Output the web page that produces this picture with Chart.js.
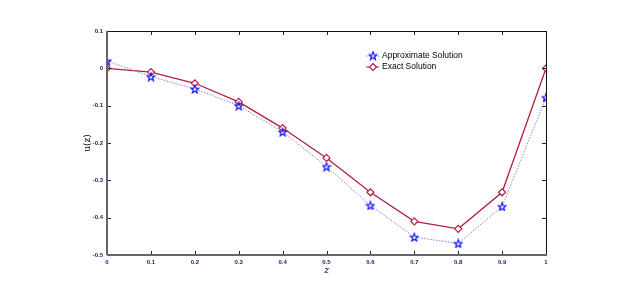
<!DOCTYPE html>
<html>
<head>
<meta charset="utf-8">
<script src="https://cdn.jsdelivr.net/npm/chart.js@4/dist/chart.umd.min.js"></script>
<style>
  html, body { margin: 0; padding: 0; background: #fff; }
  #wrap { width: 617px; height: 298px; }
</style>
</head>
<body>
<div id="wrap"><canvas id="chart" width="617" height="298"></canvas></div>
<script>
const zValues = [0, 0.1, 0.2, 0.3, 0.4, 0.5, 0.6, 0.7, 0.8, 0.9, 1]
const approxValues = [0.02, -0.022, -0.055, -0.1, -0.17, -0.263, -0.367, -0.452, -0.469, -0.37, -0.078]
const exactValues = [0, -0.01, -0.04, -0.09, -0.16, -0.24, -0.332, -0.41, -0.43, -0.332, 0]
const xTicks = [0, 0.1, 0.2, 0.3, 0.4, 0.5, 0.6, 0.7, 0.8, 0.9, 1]
const yTicks = [0.1, 0, -0.1, -0.2, -0.3, -0.4, -0.5]

const exactColor = "#b2203f"
const approxLine = "#7f7fff"
const approxMark = "#0000ff"

// five-point star marker
function makeStar(size, color) {
  const c = document.createElement("canvas")
  c.width = size
  c.height = size
  const g = c.getContext("2d")
  const cx = size / 2, cy = size / 2 + 0.5, R = size / 2 - 0.8, r = R * 0.42
  g.beginPath()
  for (let i = 0; i < 10; i++) {
    const rad = i % 2 === 0 ? R : r
    const a = -Math.PI / 2 + i * Math.PI / 5
    g.lineTo(cx + rad * Math.cos(a), cy + rad * Math.sin(a))
  }
  g.closePath()
  g.lineWidth = 1.1
  g.strokeStyle = color
  g.stroke()
  return c
}
const starImg = makeStar(10, approxMark)

const toData = (vals) => vals.map((v, i) => ({ x: zValues[i], y: v }))

// ticks pointing inward on all four sides, axis titles, legend in the plot
const decorations = {
  id: "decorations",
  afterDraw(chart) {
    const { ctx, chartArea: a, scales } = chart
    ctx.save()
    ctx.strokeStyle = "#222"
    ctx.lineWidth = 1
    ctx.beginPath()
    xTicks.forEach((t) => {
      const px = Math.round(scales.x.getPixelForValue(t)) + 0.5
      ctx.moveTo(px, a.bottom); ctx.lineTo(px, a.bottom - 4)
      ctx.moveTo(px, a.top); ctx.lineTo(px, a.top + 4)
    })
    yTicks.forEach((t) => {
      const py = Math.round(scales.y.getPixelForValue(t)) + 0.5
      ctx.moveTo(a.left, py); ctx.lineTo(a.left + 4, py)
      ctx.moveTo(a.right, py); ctx.lineTo(a.right - 4, py)
    })
    ctx.stroke()
    // frame: black top/right, grey left/bottom
    ctx.strokeStyle = "#111"
    ctx.beginPath()
    ctx.moveTo(a.left, a.top + 0.5); ctx.lineTo(a.right, a.top + 0.5)
    ctx.moveTo(a.right + 0.5, a.top); ctx.lineTo(a.right + 0.5, a.bottom)
    ctx.stroke()
    ctx.strokeStyle = "#666"
    ctx.lineWidth = 2
    ctx.beginPath()
    ctx.moveTo(a.left, a.top); ctx.lineTo(a.left, a.bottom)
    ctx.moveTo(a.left, a.bottom); ctx.lineTo(a.right + 1, a.bottom)
    ctx.stroke()

    // axis titles
    ctx.fillStyle = "#000"
    ctx.textAlign = "center"
    ctx.textBaseline = "middle"
    ctx.font = "italic 9px 'DejaVu Serif', serif"
    ctx.fillText("z", (a.left + a.right) / 2, 271)
    ctx.save()
    ctx.translate(88, (a.top + a.bottom) / 2)
    ctx.rotate(-Math.PI / 2)
    ctx.font = "9px 'DejaVu Serif', serif"
    ctx.fillText("u(z)", 0, 0)
    ctx.restore()

    // legend
    const lx = 373, ly = 56
    ctx.textAlign = "left"
    ctx.font = "8.5px 'Liberation Sans', Arial, sans-serif"
    ctx.lineWidth = 1
    ctx.strokeStyle = approxLine
    ctx.setLineDash([1.5, 1.5])
    ctx.beginPath(); ctx.moveTo(lx - 7, ly); ctx.lineTo(lx + 6, ly); ctx.stroke()
    ctx.setLineDash([])
    ctx.drawImage(starImg, lx - 5, ly - 5.5)
    ctx.fillText("Approximate Solution", lx + 9, ly)
    const ly2 = ly + 11
    ctx.strokeStyle = exactColor
    ctx.beginPath(); ctx.moveTo(lx - 7, ly2); ctx.lineTo(lx + 6, ly2); ctx.stroke()
    ctx.fillStyle = "#fff"
    ctx.lineWidth = 1.2
    ctx.beginPath()
    ctx.moveTo(lx, ly2 - 3.5); ctx.lineTo(lx + 3.5, ly2); ctx.lineTo(lx, ly2 + 3.5); ctx.lineTo(lx - 3.5, ly2); ctx.closePath()
    ctx.fill(); ctx.stroke()
    ctx.fillStyle = "#000"
    ctx.fillText("Exact Solution", lx + 9, ly2)
    ctx.restore()
  },
}

new Chart(document.getElementById("chart"), {
  type: "scatter",
  data: {
    datasets: [
      {
        label: "Approximate Solution",
        data: toData(approxValues),
        showLine: true,
        borderColor: approxLine,
        borderWidth: 1,
        borderDash: [1.5, 1.5],
        pointStyle: starImg,
        pointRadius: 5,
        pointHoverRadius: 5,
        order: 1,
      },
      {
        label: "Exact Solution",
        data: toData(exactValues),
        showLine: true,
        borderColor: exactColor,
        borderWidth: 1.3,
        pointStyle: "rectRot",
        pointRadius: 3.5,
        pointHoverRadius: 3.5,
        pointBackgroundColor: "#fff",
        pointBorderColor: exactColor,
        pointBorderWidth: 1.2,
        order: 2,
      },
    ],
  },
  options: {
    responsive: false,
    animation: false,
    layout: { padding: { left: 0, right: 71, top: 31, bottom: 0 } },
    plugins: { legend: { display: false }, tooltip: { enabled: false } },
    scales: {
      x: {
        type: "linear",
        min: 0,
        max: 1,
        afterBuildTicks: (s) => { s.ticks = xTicks.map((v) => ({ value: v })) },
        afterFit: (s) => { s.height = 43 },
        grid: { display: false, drawTicks: false },
        border: { display: false },
        ticks: {
          color: "#1a1a6a",
          font: { size: 6, family: "'Liberation Sans', Arial, sans-serif", weight: "bold" },
          padding: 4,
          maxRotation: 0,
          callback: (v) => String(v),
        },
      },
      y: {
        min: -0.5,
        max: 0.1,
        afterBuildTicks: (s) => { s.ticks = yTicks.map((v) => ({ value: v })) },
        afterFit: (s) => { s.width = 107 },
        grid: { display: false, drawTicks: false },
        border: { display: false },
        ticks: {
          color: "#1a1a6a",
          font: { size: 6, family: "'Liberation Sans', Arial, sans-serif", weight: "bold" },
          padding: 4,
          callback: (v) => String(v),
        },
      },
    },
  },
  plugins: [decorations],
})
</script>
</body>
</html>
